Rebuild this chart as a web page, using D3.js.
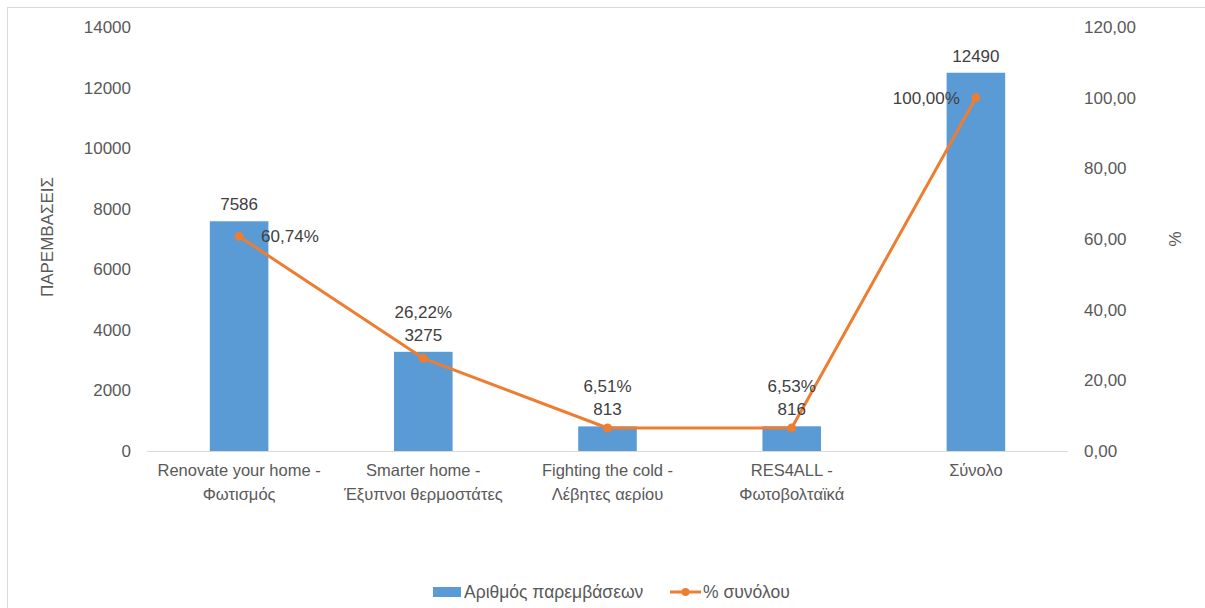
<!DOCTYPE html>
<html>
<head>
<meta charset="utf-8">
<script src="https://cdn.jsdelivr.net/npm/d3@7"></script>
<style>
  body { margin: 0; background: #fff; }
  text { font-family: "Liberation Sans", Arial, sans-serif; }
</style>
</head>
<body>
<script>
// data
var categories = [
    ["Renovate your home -", "Φωτισμός"],
    ["Smarter home -", "Έξυπνοι θερμοστάτες"],
    ["Fighting the cold -", "Λέβητες αερίου"],
    ["RES4ALL -", "Φωτοβολταϊκά"],
    ["Σύνολο"]
];
var counts = [7586, 3275, 813, 816, 12490];
var percents = [60.74, 26.22, 6.51, 6.53, 100.00];
var leftTicks = [0, 2000, 4000, 6000, 8000, 10000, 12000, 14000];
var rightTicks = [0, 20, 40, 60, 80, 100, 120];
// where each % label sits relative to its point
var pctPlace = ["right", "above", "above", "above", "left"];

var W = 1205, H = 608;
var margin = {top: 27, left: 147, right: W - 1068, bottom: H - 451};
var width = W - margin.left - margin.right,
    height = H - margin.top - margin.bottom;

var svg = d3.select("body").append("svg")
    .attr("width", W).attr("height", H);

// chart border
svg.append("rect")
    .attr("x", 7.5).attr("y", 7.5)
    .attr("width", W + 20).attr("height", H + 20)
    .attr("fill", "none").attr("stroke", "#d9d9d9");

var g = svg.append("g")
    .attr("transform", "translate(" + margin.left + "," + margin.top + ")");

var x = d3.scaleBand().domain(d3.range(categories.length)).range([0, width]);
var y = d3.scaleLinear().domain([0, 14000]).range([height, 0]);
var y2 = d3.scaleLinear().domain([0, 120]).range([height, 0]);
var barW = x.bandwidth() * 0.318;
var cx = function(i) { return x(i) + x.bandwidth() / 2; };

// left axis
var yAxis = d3.axisLeft(y).tickValues(leftTicks).tickSize(0).tickPadding(16)
    .tickFormat(d3.format("d"));
g.append("g").attr("class", "y axis").call(yAxis)
    .call(function(a) { a.select(".domain").remove(); })
    .selectAll("text").attr("fill", "#595959").style("font-size", "17px");

// right axis
var y2Axis = d3.axisRight(y2).tickValues(rightTicks).tickSize(0).tickPadding(16)
    .tickFormat(function(d) { return d3.format(".2f")(d).replace(".", ","); });
g.append("g").attr("class", "y2 axis")
    .attr("transform", "translate(" + width + ",0)")
    .call(y2Axis)
    .call(function(a) { a.select(".domain").remove(); })
    .selectAll("text").attr("fill", "#595959").style("font-size", "17px");

// baseline
g.append("line")
    .attr("x1", 0).attr("x2", width)
    .attr("y1", y(0) + 0.5).attr("y2", y(0) + 0.5)
    .attr("stroke", "#d9d9d9").attr("stroke-width", 1);

// category labels
var xl = g.selectAll(".xlabel").data(categories).enter().append("text")
    .attr("class", "xlabel")
    .attr("text-anchor", "middle")
    .attr("fill", "#595959")
    .style("font-size", "16.5px")
    .attr("transform", function(d, i) { return "translate(" + cx(i) + "," + (height + 25) + ")"; });
xl.selectAll("tspan").data(function(d) { return d; }).enter().append("tspan")
    .attr("x", 0)
    .attr("dy", function(d, i) { return i == 0 ? 0 : 24; })
    .text(function(d) { return d; });

// axis titles
svg.append("text")
    .attr("transform", "translate(53," + (margin.top + height / 2 - 2) + ") rotate(-90)")
    .attr("text-anchor", "middle")
    .attr("fill", "#595959")
    .style("font-size", "17px")
    .text("ΠΑΡΕΜΒΑΣΕΙΣ");
svg.append("text")
    .attr("transform", "translate(1169," + (margin.top + height / 2) + ") rotate(90)")
    .attr("text-anchor", "middle")
    .attr("fill", "#595959")
    .style("font-size", "17px")
    .text("%");

// bars
g.selectAll(".bar").data(counts).enter().append("rect")
    .attr("class", "bar")
    .attr("x", function(d, i) { return cx(i) - barW / 2; })
    .attr("width", barW)
    .attr("y", function(d) { return y(d); })
    .attr("height", function(d) { return height - y(d); })
    .attr("fill", "#5b9bd5");

// line
var line = d3.line()
    .x(function(d, i) { return cx(i); })
    .y(function(d) { return y2(d); });
g.append("path").datum(percents)
    .attr("d", line)
    .attr("fill", "none")
    .attr("stroke", "#ed7d31")
    .attr("stroke-width", 3)
    .attr("stroke-linejoin", "round");
g.selectAll(".dot").data(percents).enter().append("circle")
    .attr("class", "dot")
    .attr("cx", function(d, i) { return cx(i); })
    .attr("cy", function(d) { return y2(d); })
    .attr("r", 4.5)
    .attr("fill", "#ed7d31");

// bar value labels
g.selectAll(".bar_label").data(counts).enter().append("text")
    .attr("class", "bar_label")
    .attr("x", function(d, i) { return cx(i); })
    .attr("y", function(d) { return y(d) - 11; })
    .attr("text-anchor", "middle")
    .attr("fill", "#404040")
    .style("font-size", "17px")
    .text(function(d) { return d; });

// percent labels
var pctFmt = function(d) { return d3.format(".2f")(d).replace(".", ",") + "%"; };
g.selectAll(".pct_label").data(percents).enter().append("text")
    .attr("class", "pct_label")
    .attr("x", function(d, i) {
        if (pctPlace[i] == "right") return cx(i) + 22;
        if (pctPlace[i] == "left") return cx(i) - 16;
        return cx(i);
    })
    .attr("y", function(d, i) {
        if (pctPlace[i] == "above") return y(counts[i]) - 34;
        return y2(d) + 6;
    })
    .attr("text-anchor", function(d, i) {
        if (pctPlace[i] == "right") return "start";
        if (pctPlace[i] == "left") return "end";
        return "middle";
    })
    .attr("fill", "#404040")
    .style("font-size", "17px")
    .text(pctFmt);

// legend
var lg = svg.append("g").attr("transform", "translate(0,592)");
lg.append("rect").attr("x", 433).attr("y", -5).attr("width", 28).attr("height", 10).attr("fill", "#5b9bd5");
lg.append("text").attr("x", 464).attr("y", 6).attr("fill", "#595959").style("font-size", "17.5px")
    .text("Αριθμός παρεμβάσεων");
lg.append("line").attr("x1", 670).attr("x2", 701).attr("y1", 0).attr("y2", 0)
    .attr("stroke", "#ed7d31").attr("stroke-width", 3);
lg.append("circle").attr("cx", 685.5).attr("cy", 0).attr("r", 4).attr("fill", "#ed7d31");
lg.append("text").attr("x", 703).attr("y", 6).attr("fill", "#595959").style("font-size", "17.5px")
    .text("% συνόλου");
</script>
</body>
</html>
